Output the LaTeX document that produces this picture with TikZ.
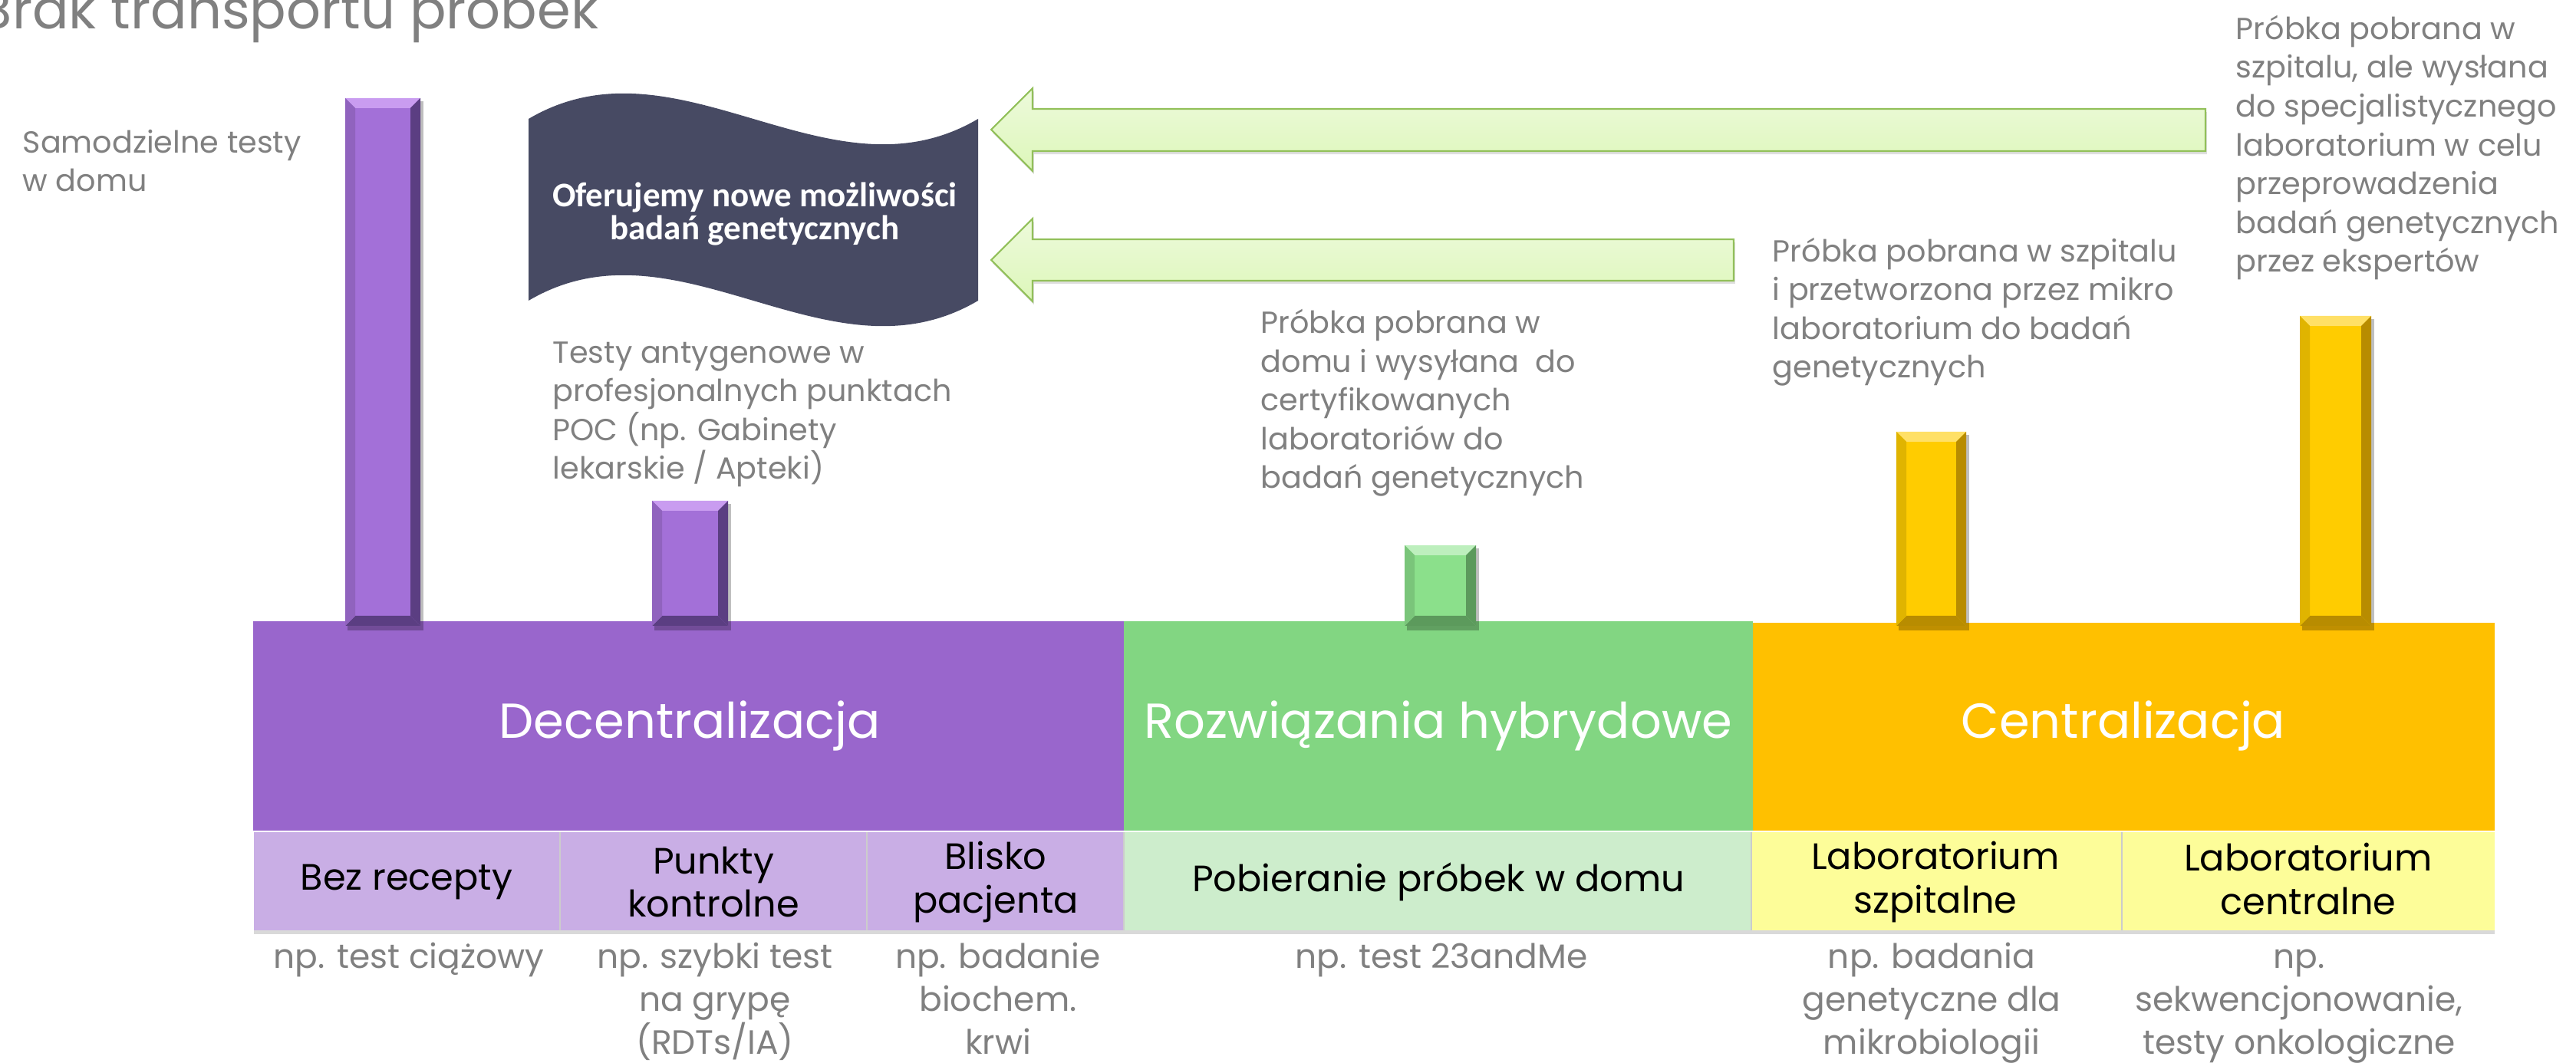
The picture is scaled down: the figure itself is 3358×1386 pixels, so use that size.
\documentclass[tikz,border=0pt]{standalone}
\usepackage{fontspec}
\setmainfont{Poppins}
\newfontfamily\calibri{Carlito}
\usetikzlibrary{shadows}

\definecolor{textgrey}{HTML}{808080}
\definecolor{decpurple}{HTML}{9966CC}
\definecolor{hybgreen}{HTML}{82D682}
\definecolor{cenorange}{HTML}{FFC000}
\definecolor{subpurple}{HTML}{C9AEE5}
\definecolor{subgreen}{HTML}{CDEDCC}
\definecolor{subyellow}{HTML}{FDFD99}
\definecolor{bannerslate}{HTML}{474A63}
\definecolor{arrowline}{HTML}{92C05A}
\definecolor{arrowtop}{HTML}{EDFADB}
\definecolor{arrowbottom}{HTML}{DDF7BA}
\definecolor{barpurple}{HTML}{A370D8}
\definecolor{barpurplehi}{HTML}{C99CF0}
\definecolor{barpurplelo}{HTML}{5B3E82}
\definecolor{bargreen}{HTML}{8BE08B}
\definecolor{bargreenhi}{HTML}{BDEFBD}
\definecolor{bargreenlo}{HTML}{5C9A5C}
\definecolor{baryellow}{HTML}{FFCC00}
\definecolor{baryellowhi}{HTML}{FFE066}
\definecolor{baryellowlo}{HTML}{B88C00}

\tikzset{
  greytext/.style={text=textgrey, font=\fontsize{11.3}{14.4}\selectfont, align=left, inner sep=0pt},
  exampletext/.style={text=textgrey, font=\fontsize{12.5}{15.9}\selectfont, align=center, inner sep=0pt},
  subtext/.style={text=black, font=\fontsize{13.6}{16.2}\selectfont, align=center, inner sep=0pt},
  bandtext/.style={text=white, font=\fontsize{18.2}{21}\selectfont, inner sep=0pt},
  greenarrow/.style={draw=arrowline, line width=0.6pt, top color=arrowtop, bottom color=arrowbottom,
    drop shadow={shadow xshift=0.5pt, shadow yshift=-1.2pt, opacity=0.25}},
}

\begin{document}
\begin{tikzpicture}[x=0.01cm, y=-0.01cm]
	\useasboundingbox (0,0) rectangle (3358,1386);

	% title
	\node[text=textgrey, font=\fontsize{20}{24}\selectfont, anchor=base east, inner sep=0pt] (title) at (781,38) {Brak transportu próbek};

	% main bands
	\fill[decpurple] (330,810) rectangle (1465,1083);
	\fill[hybgreen] (1465,810) rectangle (2285,1083);
	\fill[cenorange] (2285,812) rectangle (3252,1083);
	\node[bandtext] (dec) at (899,946) {Decentralizacja};
	\node[bandtext] (hyb) at (1875,946) {Rozwiązania hybrydowe};
	\node[bandtext] (cen) at (2768,946) {Centralizacja};

	% sub bands
	\fill[subpurple, drop shadow={shadow xshift=0pt, shadow yshift=-1.5pt, opacity=0.3}] (331,1085) rectangle (3252,1213);
	\fill[subpurple] (331,1085) rectangle (1465,1213);
	\fill[subgreen] (1465,1085) rectangle (2283,1213);
	\fill[subyellow] (2283,1085) rectangle (3252,1213);
	\foreach \xs in {730,1130,1465,2283,2766}
		\draw[white!60!gray, line width=0.4pt] (\xs,1085) -- (\xs,1213);
	\node[subtext] (sub1) at (530,1150) {Bez recepty};
	\node[subtext] (sub2) at (930,1150) {Punkty\\kontrolne};
	\node[subtext] (sub3) at (1298,1150) {Blisko\\pacjenta};
	\node[subtext] (sub4) at (1875,1150) {Pobieranie próbek w domu};
	\node[subtext] (sub5) at (2523,1150) {Laboratorium\\szpitalne};
	\node[subtext] (sub6) at (3009,1146) {Laboratorium\\centralne};

	% examples below
	\node[exampletext, anchor=base] (ex1) at (533,1262) {np. test ciążowy};
	\node[exampletext, anchor=base] (ex2) at (932,1374) {np. szybki test\\na grypę\\(RDTs/IA)};
	\node[exampletext, anchor=base] (ex3) at (1301,1374) {np. badanie\\biochem.\\krwi};
	\node[exampletext, anchor=base] (ex4) at (1879,1262) {np. test 23andMe};
	\node[exampletext, anchor=base] (ex5) at (2518,1374) {np. badania\\genetyczne dla\\mikrobiologii};
	\node[exampletext, anchor=base] (ex6) at (2997,1374) {np.\\sekwencjonowanie,\\testy onkologiczne};

	% bevelled bars
	\def\bv{13}
	\foreach \xa/\xb/\yt/\col in {450/548/128/purple, 850/949/653/purple, 1831/1924/711/green, 2472/2563/563/yellow, 2998/3091/412/yellow}{
		\fill[black, opacity=0.25] (\xa+3,\yt+4) rectangle (\xb+4,822);
		\fill[bar\col] (\xa,\yt) rectangle (\xb,816);
		\fill[bar\col hi] (\xa,\yt) -- (\xb,\yt) -- (\xb-\bv,\yt+\bv) -- (\xa+\bv,\yt+\bv) -- cycle;
		\fill[bar\col lo] (\xb,\yt) -- (\xb,816) -- (\xb-\bv,816-\bv) -- (\xb-\bv,\yt+\bv) -- cycle;
		\fill[bar\col lo] (\xa,816) -- (\xb,816) -- (\xb-\bv,816-\bv) -- (\xa+\bv,816-\bv) -- cycle;
		\fill[bar\col!88!black] (\xa,\yt) -- (\xa+\bv,\yt+\bv) -- (\xa+\bv,816-\bv) -- (\xa,816) -- cycle;
	}

	% wave banner
	\fill[bannerslate] (689,155) .. controls (884,40) and (1080,270) .. (1275,155)
		-- (1275,392) .. controls (1080,507) and (884,277) .. (689,392) -- cycle;
	\node[text=white, font=\calibri\bfseries\fontsize{12.8}{12.4}\selectfont, align=center, anchor=base, inner sep=0pt] (offer) at (984,313) {Oferujemy nowe możliwości\\badań genetycznych};

	% arrows
	\filldraw[greenarrow] (2875,142) -- (1346,142) -- (1346,115) -- (1292,169) -- (1346,223) -- (1346,197) -- (2875,197) -- cycle;
	\filldraw[greenarrow] (2260,312) -- (1346,312) -- (1346,285) -- (1292,339) -- (1346,393) -- (1346,366) -- (2260,366) -- cycle;

	% descriptions
	\node[greytext, anchor=base west] (home) at (29,250) {Samodzielne testy\\w domu};
	\node[greytext, anchor=base west] (poc) at (720,625) {Testy antygenowe w\\profesjonalnych punktach\\POC (np. Gabinety\\lekarskie / Apteki)};
	\node[greytext, anchor=base west] (sent) at (1643,637) {Próbka pobrana w\\domu i wysyłana\ \ do\\certyfikowanych\\laboratoriów do\\badań genetycznych};
	\node[greytext, anchor=base west] (hosp) at (2310,493) {Próbka pobrana w szpitalu\\i przetworzona przez mikro\\laboratorium do badań\\genetycznych};
	\node[greytext, anchor=base west] (expert) at (2914,355) {Próbka pobrana w\\szpitalu, ale wysłana\\do specjalistycznego\\laboratorium w celu\\przeprowadzenia\\badań genetycznych\\przez ekspertów};
\end{tikzpicture}
\end{document}
